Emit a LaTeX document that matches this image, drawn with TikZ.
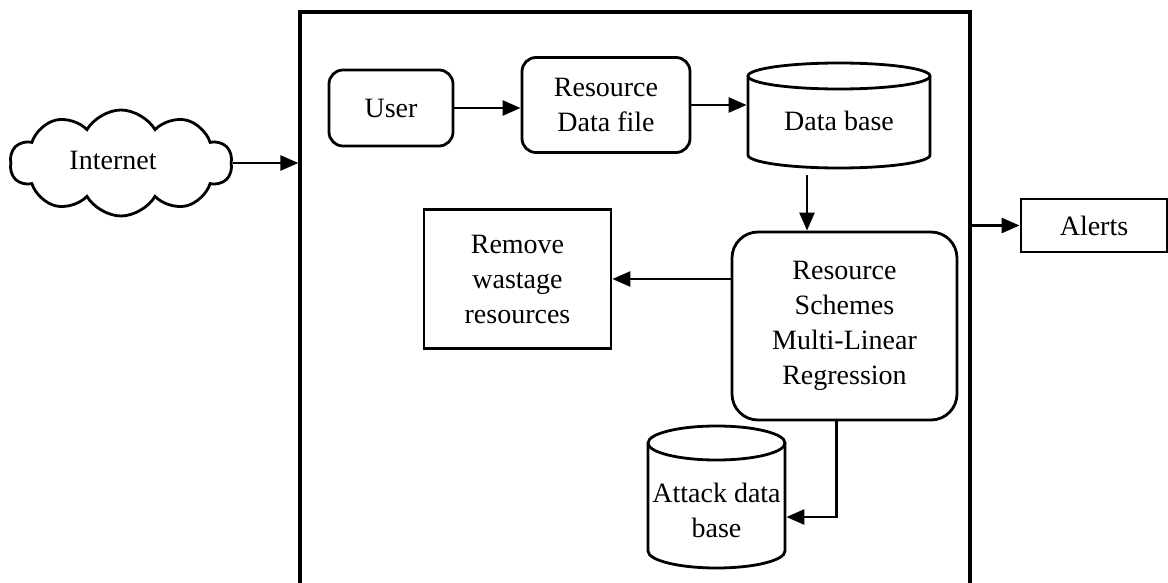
\documentclass[tikz,border=0pt]{standalone}
\usepackage{fontspec}
\setmainfont{Liberation Serif}
\usetikzlibrary{shapes.symbols,arrows.meta}
\begin{document}
\begin{tikzpicture}[x=1pt,y=-1pt,
  every node/.style={font=\fontsize{28}{35}\selectfont, align=center, inner sep=0pt, line width=2.8pt},
  box/.style={draw, rectangle},
  rbox/.style={draw, rectangle, rounded corners=14pt},
  arr/.style={-{Triangle[length=18pt,width=15pt]}, line width=2.6pt},
  cyl/.style={line width=2.8pt}
]
\useasboundingbox (0,0) rectangle (1168,583);
% outer frame
\node[draw, line width=3.2pt, minimum width=670pt, minimum height=588pt] (frame) at (635,306) {};
% Internet cloud
\node[cloud, draw, cloud puffs=10, cloud puff arc=120, aspect=2.1, minimum width=222pt, minimum height=106pt] (net) at (121,163) {};
\node (nettext) at (113,160) {Internet};
% User
\node[rbox, minimum width=124pt, minimum height=76pt] (user) at (391,108) {User};
% Resource data file
\node[rbox, minimum width=168pt, minimum height=95pt] (rdf) at (606,105) {Resource\\Data file};
% Data base cylinder
\draw[cyl] (748,76) -- (748,155) arc[start angle=180, end angle=0, x radius=91, y radius=13] -- (930,76);
\draw[cyl] (839,76) ellipse[x radius=91, y radius=13];
\node[minimum width=182pt, minimum height=105pt] (db) at (839,115.5) {};
\node at (839,121) {Data base};
% Regression
\node[draw, rounded corners=26pt, minimum width=225pt, minimum height=188pt] (reg) at (844.5,326) {Resource\\Schemes\\Multi-Linear\\Regression};
% Remove wastage
\node[box, minimum width=187pt, minimum height=139pt] (rm) at (517.5,279) {Remove\\wastage\\resources};
% Attack data base cylinder
\draw[cyl] (648,443) -- (648,551) arc[start angle=180, end angle=0, x radius=68.5, y radius=17] -- (785,443);
\draw[cyl] (716.5,443) ellipse[x radius=68.5, y radius=17];
\node[minimum width=137pt] (adb) at (716.5,510) {Attack data\\base};
% Alerts
\node[box, minimum width=146pt, minimum height=53pt] (alerts) at (1094,225.5) {Alerts};
% connectors
\draw[arr] (net.east) -- (net.east -| frame.west);
\draw[arr] (user.east) -- (rdf.west |- user.east);
\draw[arr] (rdf.east) -- (db.west |- rdf.east);
\draw[arr, shorten <=6pt] ([xshift=-32pt]db.south) -- ([xshift=-32pt]db.south |- reg.north);
\draw[arr] (reg.west |- rm.east) -- (rm.east);
\draw[arr] ([xshift=-8pt]reg.south) |- ([yshift=-7pt]adb.east);
\draw[arr] (frame.east |- alerts.west) -- (alerts.west);
\end{tikzpicture}
\end{document}
